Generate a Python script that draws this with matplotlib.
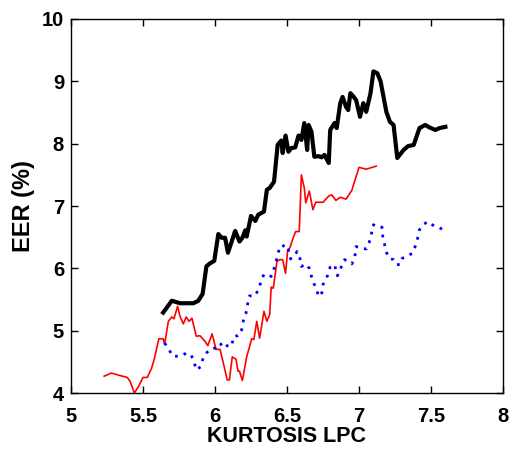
import matplotlib.pyplot as plt

plt.rcParams['font.family'] = ['Liberation Sans', 'DejaVu Sans']

# black (thick) curve
black_x = [5.64, 5.70, 5.757, 5.85, 5.884, 5.914, 5.94, 5.965, 5.995, 6.023, 6.046,
           6.07, 6.09, 6.116, 6.14, 6.17, 6.19, 6.21, 6.22, 6.25, 6.28, 6.30, 6.34,
           6.36, 6.38, 6.41, 6.435, 6.46, 6.47, 6.49, 6.51, 6.53, 6.557, 6.58, 6.60,
           6.62, 6.64, 6.65, 6.67, 6.69, 6.72, 6.74, 6.76, 6.79, 6.80, 6.83, 6.845,
           6.87, 6.886, 6.91, 6.925, 6.94, 6.96, 6.98, 7.007, 7.03, 7.05, 7.08, 7.10,
           7.127, 7.15, 7.19, 7.215, 7.24, 7.266, 7.31, 7.34, 7.38, 7.42, 7.46, 7.49,
           7.53, 7.56, 7.60]
black_y = [5.29, 5.48, 5.44, 5.44, 5.48, 5.59, 6.03, 6.08, 6.12, 6.55, 6.49,
           6.49, 6.25, 6.43, 6.60, 6.43, 6.49, 6.61, 6.51, 6.84, 6.76, 6.86, 6.91,
           7.26, 7.29, 7.39, 7.98, 8.05, 7.85, 8.13, 7.87, 7.93, 7.94, 8.13, 8.06,
           8.33, 7.90, 8.30, 8.19, 7.79, 7.80, 7.78, 7.82, 7.69, 8.22, 8.33, 8.25,
           8.65, 8.75, 8.59, 8.54, 8.81, 8.76, 8.70, 8.43, 8.65, 8.51, 8.81, 9.16,
           9.13, 9.00, 8.51, 8.35, 8.30, 7.77, 7.90, 7.96, 7.98, 8.25, 8.30, 8.26,
           8.22, 8.25, 8.27]

# red (thin) curve
red_x = [5.23, 5.28, 5.34, 5.39, 5.41, 5.44, 5.47, 5.50, 5.53, 5.56, 5.58, 5.61,
         5.64, 5.65, 5.676, 5.70, 5.715, 5.74, 5.757, 5.78, 5.80, 5.82, 5.84, 5.87,
         5.895, 5.93, 5.95, 5.98, 6.007, 6.035, 6.06, 6.085, 6.10, 6.12, 6.146,
         6.16, 6.17, 6.19, 6.22, 6.255, 6.27, 6.29, 6.31, 6.34, 6.36, 6.38, 6.39,
         6.405, 6.43, 6.45, 6.47, 6.49, 6.505, 6.52, 6.54, 6.56, 6.585, 6.60, 6.62,
         6.63, 6.655, 6.68, 6.70, 6.75, 6.79, 6.81, 6.84, 6.87, 6.91, 6.95, 7.00,
         7.05, 7.12]
red_y = [4.27, 4.32, 4.28, 4.25, 4.19, 4.00, 4.11, 4.25, 4.25, 4.40, 4.56, 4.87,
         4.87, 4.78, 5.15, 5.22, 5.19, 5.39, 5.23, 5.11, 5.22, 5.15, 5.20, 4.91,
         4.92, 4.83, 4.76, 4.95, 4.70, 4.70, 4.46, 4.21, 4.21, 4.58, 4.54,
         4.35, 4.35, 4.20, 4.58, 4.87, 4.86, 5.15, 4.88, 5.31, 5.15, 5.26, 5.70,
         5.68, 6.11, 6.14, 6.14, 5.92, 6.30, 6.33, 6.47, 6.59, 6.59, 7.50, 7.29,
         7.05, 7.24, 6.94, 7.06, 7.06, 7.16, 7.18, 7.09, 7.14, 7.11, 7.25, 7.62,
         7.59, 7.64]

# blue (dotted) curve
blue_x = [5.65, 5.68, 5.70, 5.73, 5.77, 5.80, 5.83, 5.85, 5.87, 5.90, 5.92, 5.94,
          5.965, 6.00, 6.035, 6.06, 6.085, 6.115, 6.13, 6.16, 6.18, 6.20, 6.215,
          6.23, 6.24, 6.27, 6.29, 6.31, 6.32, 6.34, 6.37, 6.39, 6.41, 6.43, 6.45,
          6.46, 6.49, 6.51, 6.525, 6.55, 6.57, 6.59, 6.60, 6.63, 6.655, 6.67, 6.69,
          6.705, 6.72, 6.74, 6.75, 6.775, 6.80, 6.83, 6.85, 6.88, 6.90, 6.92, 6.95,
          6.97, 6.98, 7.01, 7.05, 7.07, 7.09, 7.10, 7.12, 7.16, 7.165, 7.18, 7.19,
          7.21, 7.24, 7.26, 7.285, 7.30, 7.335, 7.37, 7.39, 7.405, 7.42, 7.45, 7.48,
          7.52, 7.55, 7.585]
blue_y = [4.80, 4.71, 4.60, 4.59, 4.60, 4.64, 4.62, 4.54, 4.37, 4.42, 4.58, 4.64,
          4.70, 4.72, 4.80, 4.72, 4.76, 4.75, 4.91, 4.92, 4.95, 5.20, 5.28,
          5.47, 5.56, 5.55, 5.61, 5.71, 5.81, 5.90, 5.90, 5.87, 6.00, 6.16, 6.35,
          6.34, 6.38, 6.30, 6.15, 6.20, 6.27, 6.16, 6.03, 6.07, 6.00, 5.87, 5.74,
          5.66, 5.55, 5.58, 5.74, 5.84, 6.02, 6.06, 5.88, 6.04, 6.14, 6.11, 6.07,
          6.16, 6.35, 6.33, 6.31, 6.41, 6.59, 6.70, 6.67, 6.66, 6.51, 6.36, 6.26,
          6.16, 6.14, 6.06, 6.06, 6.16, 6.20, 6.24, 6.35, 6.46, 6.62, 6.71, 6.75,
          6.68, 6.66, 6.62]

x_ticks = [5, 5.5, 6, 6.5, 7, 7.5, 8]
x_tick_labels = ['5', '5.5', '6', '6.5', '7', '7.5', '8']
y_ticks = [4, 5, 6, 7, 8, 9, 10]

fig = plt.figure(figsize=(5.09, 4.49), dpi=100)
ax = fig.add_axes([0.1395, 0.1247, 0.8487, 0.833])

ax.plot(black_x, black_y, color='black', linewidth=3.0, solid_joinstyle='round')
ax.plot(red_x, red_y, color='red', linewidth=1.2)
ax.plot(blue_x, blue_y, color='blue', linewidth=2.0, linestyle=(0, (1, 2.2)))

ax.set_xlim(5, 8)
ax.set_ylim(4, 10)
ax.set_xticks(x_ticks)
ax.set_xticklabels(x_tick_labels)
ax.set_yticks(y_ticks)

ax.tick_params(direction='in', length=5, width=1, top=True, right=True,
               labelsize=14.5)
ax.tick_params(axis='x', pad=10)
ax.tick_params(axis='y', pad=5)
for lab in ax.get_xticklabels() + ax.get_yticklabels():
    lab.set_fontweight('bold')
for sp in ax.spines.values():
    sp.set_linewidth(1.0)

ax.set_xlabel('KURTOSIS LPC', fontsize=15.5, fontweight='bold', labelpad=0)
ax.set_ylabel('EER (%)', fontsize=17, fontweight='bold', labelpad=5)

fig.savefig('out.png', dpi=100, facecolor='white')
